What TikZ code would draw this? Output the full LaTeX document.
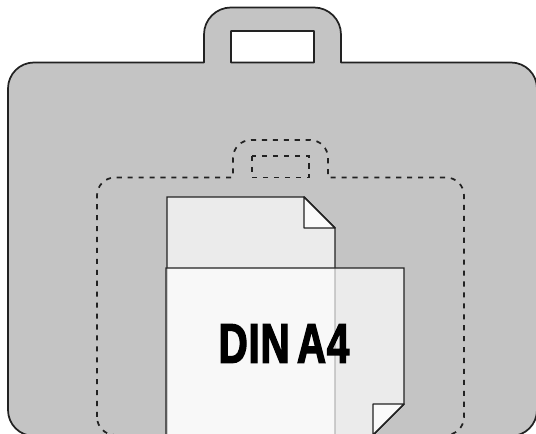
\documentclass[tikz,border=0pt]{standalone}
\usepackage{fontspec}
\setmainfont{Liberation Sans}[BoldFeatures={FakeStretch=0.72,FakeBold=2.2,WordSpace=0.6,LetterSpace=1.5}]
\usepackage{tikz}
\definecolor{bagfill}{HTML}{C4C4C4}
\definecolor{foldfill}{HTML}{FAFAFA}
\definecolor{inkline}{HTML}{222222}
\tikzset{
    bagline/.style={draw=inkline, line width=1.3pt, line join=round},
    dashline/.style={draw=inkline, line width=1.3pt, dash pattern=on 3.8pt off 4.4pt},
    sheet/.style={draw=inkline, line width=1.1pt, fill=white, fill opacity=0.67},
    fold/.style={draw=inkline, line width=1.1pt, fill=foldfill, line join=round}
}
\begin{document}
\begin{tikzpicture}[x=0.75pt, y=0.75pt]
    \useasboundingbox (0,0) rectangle (536,434);
    \clip (0,0) rectangle (536,434);
    \def\rb{26}
    \def\rh{27}
    \def\rd{18}
    % bag with hole in the handle
    \draw[bagline, fill=bagfill, even odd rule]
        (8,24) -- (8,345.5) arc[start angle=180, end angle=90, radius=\rb]
        -- (204,371.5) -- (204,399.5) arc[start angle=180, end angle=90, radius=\rh]
        -- (314,426.5) arc[start angle=90, end angle=0, radius=\rh]
        -- (341,371.5) -- (511,371.5) arc[start angle=90, end angle=0, radius=\rb]
        -- (537,24) arc[start angle=0, end angle=-90, radius=\rb]
        -- (34,-2) arc[start angle=-90, end angle=-180, radius=\rb] -- cycle
        (231,403) rectangle (314,371.5);
    % smaller bag, dashed
    \draw[dashline]
        (97,17) -- (97,238.5) arc[start angle=180, end angle=90, radius=\rd]
        -- (233,256.5) -- (233,276) arc[start angle=180, end angle=90, radius=\rd]
        -- (310,294) arc[start angle=90, end angle=0, radius=\rd]
        -- (328,256.5) -- (446,256.5) arc[start angle=90, end angle=0, radius=\rd]
        -- (464,17) arc[start angle=0, end angle=-90, radius=\rd]
        -- (115,-1) arc[start angle=-90, end angle=-180, radius=\rd] -- cycle;
    \draw[dashline] (252,278) rectangle (309,256.5);
    % back sheet
    \draw[sheet] (167,-40) -- (167,237) -- (304,237) -- (335,206) -- (335,-40) -- cycle;
    \draw[fold] (304,237) -- (304,206) -- (335,206) -- cycle;
    % front sheet
    \draw[sheet] (166,-40) -- (166,166) -- (404,166) -- (404,30) -- (373,-1) -- (373,-40) -- cycle;
    \draw[fold] (404,30) -- (373,30) -- (373,-1) -- cycle;
    \node[font=\fontsize{42}{42}\selectfont\bfseries, text=black, inner sep=0pt] (din) at (284,90.5) {DIN A4};
\end{tikzpicture}
\end{document}
